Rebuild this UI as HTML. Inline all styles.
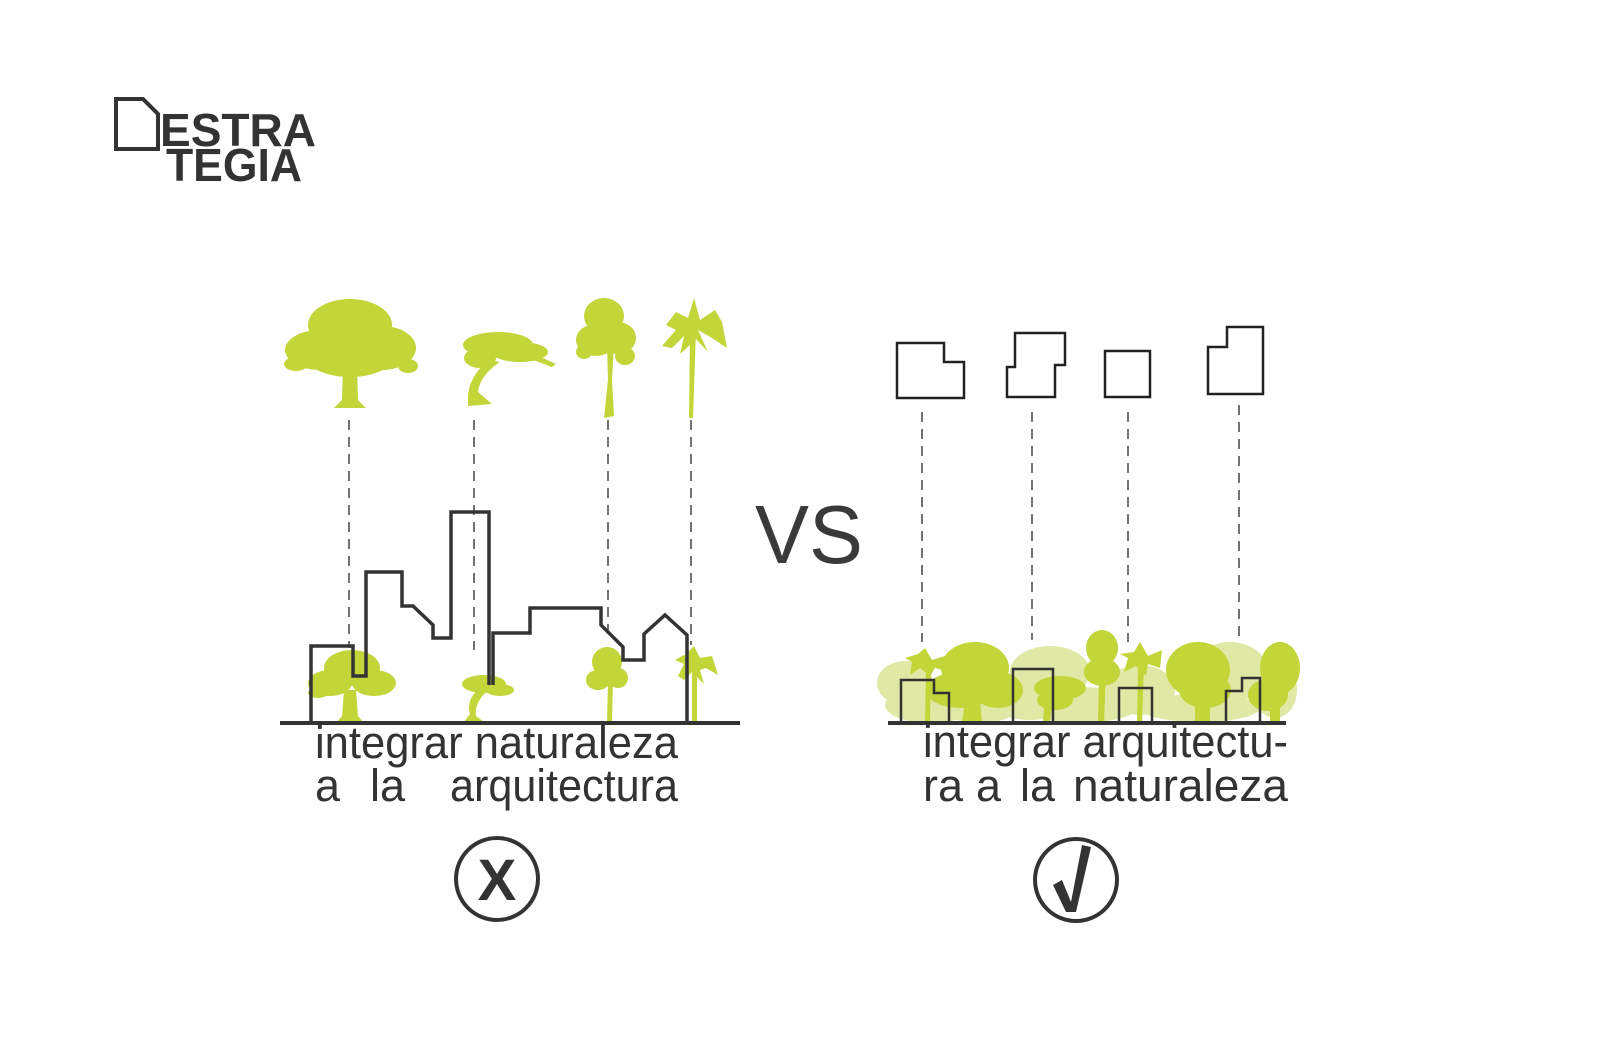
<!DOCTYPE html>
<html><head><meta charset="utf-8"><style>
html,body{margin:0;padding:0;background:#fff;}
svg{display:block;}
</style></head><body>
<svg width="1600" height="1060" viewBox="0 0 1600 1060" xmlns="http://www.w3.org/2000/svg" font-family="Liberation Sans, Arial, sans-serif">
<rect width="1600" height="1060" fill="#fff"/>
<!-- logo -->
<path d="M116 99 H143 L158 114 V149 H116 Z" fill="none" stroke="#333" stroke-width="4"/>
<text x="160" y="146" font-size="46" font-weight="bold" fill="#333" textLength="156" lengthAdjust="spacingAndGlyphs">ESTRA</text>
<text x="166" y="181" font-size="46" font-weight="bold" fill="#333" textLength="136" lengthAdjust="spacingAndGlyphs">TEGIA</text>

<g fill="#c2d63a">
<!-- oak -->
<ellipse cx="350" cy="325" rx="42" ry="26"/>
<ellipse cx="320" cy="350" rx="35" ry="20"/>
<ellipse cx="382" cy="348" rx="34" ry="22"/>
<ellipse cx="350" cy="355" rx="45" ry="22"/>
<ellipse cx="296" cy="364" rx="12" ry="7"/>
<ellipse cx="408" cy="366" rx="10" ry="7"/>
<path d="M343 365 H357 L358 400 L366 408 H334 L342 400 Z"/>
<!-- acacia -->
<ellipse cx="498" cy="345" rx="35" ry="13"/>
<ellipse cx="520" cy="352" rx="28" ry="10"/>
<ellipse cx="480" cy="358" rx="16" ry="10"/>
<path d="M530 352 L556 364 L552 367 L528 358 Z"/>
<path d="M488 360 L500 362 Q480 375 478 392 L492 404 L468 406 L468 398 Q468 378 488 360 Z"/>
<!-- slim tree -->
<ellipse cx="604" cy="316" rx="20" ry="18"/>
<ellipse cx="596" cy="340" rx="20" ry="16"/>
<ellipse cx="618" cy="338" rx="18" ry="16"/>
<ellipse cx="625" cy="356" rx="10" ry="9"/>
<ellipse cx="584" cy="352" rx="8" ry="7"/>
<path d="M607 345 L614 345 L612 380 L614 416 L604 418 L608 380 Z"/>
<!-- palm -->
<path d="M694 298 L700 320 L715 310 L722 322 L727 348 L712 338 L698 330 L708 352 L694 337 L690 345 L680 354 L684 336 L672 348 L662 346 L676 330 L666 325 L676 312 L688 318 Z"/>
<path d="M690 330 L696 330 L693 418 L689 418 Z"/>

<!-- bottom left trees -->
<ellipse cx="352" cy="668" rx="28" ry="18"/>
<ellipse cx="330" cy="683" rx="22" ry="13"/>
<ellipse cx="374" cy="683" rx="22" ry="13"/>
<ellipse cx="318" cy="693" rx="10" ry="5"/>
<path d="M344 690 H356 L358 716 L364 723 H336 L342 716 Z"/>
<ellipse cx="484" cy="684" rx="22" ry="9"/>
<ellipse cx="500" cy="690" rx="14" ry="6"/>
<path d="M478 690 L486 692 Q474 704 476 716 L484 722 L464 722 L470 714 Q466 700 478 690 Z"/>
<ellipse cx="607" cy="662" rx="15" ry="15"/>
<ellipse cx="598" cy="680" rx="12" ry="10"/>
<ellipse cx="618" cy="678" rx="10" ry="10"/>
<path d="M608 680 L613 680 L612 723 L607 723 Z"/>
<path d="M694 646 L700 658 L712 656 L718 675 L706 668 L700 670 L704 684 L692 672 L684 680 L678 676 L684 664 L675 660 L686 654 Z"/>
<path d="M692 668 L697 668 L697 723 L692 723 Z"/>
</g>

<!-- right tree band (light back) -->
<g fill="#dfe9a5">
<ellipse cx="905" cy="683" rx="28" ry="22"/>
<ellipse cx="1050" cy="672" rx="40" ry="26"/>
<ellipse cx="1030" cy="695" rx="45" ry="25"/>
<ellipse cx="1140" cy="690" rx="35" ry="25"/>
<ellipse cx="1230" cy="672" rx="38" ry="30"/>
<ellipse cx="1275" cy="690" rx="22" ry="28"/>
<ellipse cx="980" cy="705" rx="40" ry="18"/>
<ellipse cx="1200" cy="708" rx="60" ry="14"/>
<ellipse cx="1080" cy="705" rx="60" ry="18"/>
<ellipse cx="930" cy="705" rx="45" ry="18"/>
</g>
<g fill="#c2d63a">
<ellipse cx="975" cy="668" rx="34" ry="26"/>
<ellipse cx="960" cy="690" rx="34" ry="18"/>
<ellipse cx="998" cy="690" rx="25" ry="18"/>
<path d="M965 700 H980 L982 723 H962 Z"/>
<path d="M925 648 L932 660 L945 656 L950 672 L935 668 L930 676 L920 668 L910 675 L912 662 L905 658 L918 654 Z"/>
<path d="M926 668 L931 668 L930 723 L925 723 Z"/>
<ellipse cx="1060" cy="688" rx="26" ry="12"/>
<ellipse cx="1055" cy="700" rx="18" ry="10"/>
<path d="M1045 692 L1053 692 L1050 723 L1043 723 Z"/>
<ellipse cx="1102" cy="648" rx="16" ry="18"/>
<ellipse cx="1102" cy="672" rx="18" ry="14"/>
<path d="M1099 670 L1106 670 L1104 723 L1098 723 Z"/>
<path d="M1140 642 L1148 656 L1162 650 L1160 668 L1148 664 L1146 676 L1136 666 L1124 672 L1128 658 L1120 654 L1134 652 Z"/>
<path d="M1138 665 L1144 665 L1142 723 L1137 723 Z"/>
<ellipse cx="1198" cy="670" rx="32" ry="28"/>
<ellipse cx="1205" cy="690" rx="26" ry="18"/>
<path d="M1195 695 H1210 L1210 723 H1195 Z"/>
<ellipse cx="1280" cy="668" rx="20" ry="26"/>
<ellipse cx="1268" cy="695" rx="20" ry="16"/>
<path d="M1270 700 H1280 L1280 723 H1270 Z"/>
</g>

<!-- dashed lines -->
<g stroke="#444" stroke-width="1.5" stroke-dasharray="10 7" fill="none">
<line x1="349" y1="420" x2="349" y2="648"/>
<line x1="474" y1="420" x2="474" y2="650"/>
<line x1="608" y1="420" x2="608" y2="640"/>
<line x1="691" y1="420" x2="691" y2="645"/>
<line x1="922" y1="412" x2="922" y2="642"/>
<line x1="1032" y1="412" x2="1032" y2="640"/>
<line x1="1128" y1="412" x2="1128" y2="642"/>
<line x1="1239" y1="405" x2="1239" y2="640"/>
</g>

<!-- buildings left -->
<g fill="none" stroke="#333" stroke-width="3.5" stroke-linejoin="miter">
<path d="M311 723 V646 H353 V676 H366 V572 H402 V606 H413 L433 625 V638 H451 V512 H489 V685"/>
<path d="M493 685 V633 H530 V608 H601 V625 L623 647 V660 H644 V634 L665 615 L687 635 V723"/>
</g>
<rect x="280" y="721" width="460" height="4" fill="#333"/>
<rect x="888" y="721" width="398" height="4" fill="#333"/>

<!-- right top boxes -->
<g fill="none" stroke="#222" stroke-width="2.5">
<path d="M897 343 H944 V362 H964 V398 H897 Z"/>
<path d="M1015 333 H1065 V365 H1055 V397 H1007 V367 H1015 Z"/>
<rect x="1105" y="351" width="45" height="46"/>
<path d="M1208 347 H1227 V327 H1263 V394 H1208 Z"/>
</g>
<g fill="none" stroke="#333" stroke-width="2.5">
<path d="M901 723 V680 H934 V693 H949 V723"/>
<path d="M1013 723 V669 H1053 V723"/>
<path d="M1119 723 V688 H1152 V723"/>
<path d="M1226 723 V691 H1242 V678 H1260 V723"/>
</g>

<text x="755" y="563" font-size="83" fill="#3a3a3a" textLength="108" lengthAdjust="spacingAndGlyphs">VS</text>

<g font-size="45" fill="#333">
<text x="315" y="758" textLength="363" lengthAdjust="spacingAndGlyphs">integrar naturaleza</text>
<text x="315" y="801">a</text>
<text x="370" y="801">la</text>
<text x="450" y="801" textLength="228" lengthAdjust="spacingAndGlyphs">arquitectura</text>
<text x="923" y="757" textLength="365" lengthAdjust="spacingAndGlyphs">integrar arquitectu-</text>
<text x="923" y="801">ra</text>
<text x="976" y="801">a</text>
<text x="1020" y="801">la</text>
<text x="1073" y="801" textLength="215" lengthAdjust="spacingAndGlyphs">naturaleza</text>
</g>

<circle cx="497" cy="879" r="41" fill="none" stroke="#333" stroke-width="4"/>
<text x="497" y="900" font-size="58" font-weight="bold" fill="#333" text-anchor="middle">X</text>
<circle cx="1076" cy="880" r="41" fill="none" stroke="#333" stroke-width="4"/>
<polygon points="1053,885 1062,880 1071,902 1082,845 1091,847 1076,912 1066,912" fill="#333"/>
</svg>
</body></html>
